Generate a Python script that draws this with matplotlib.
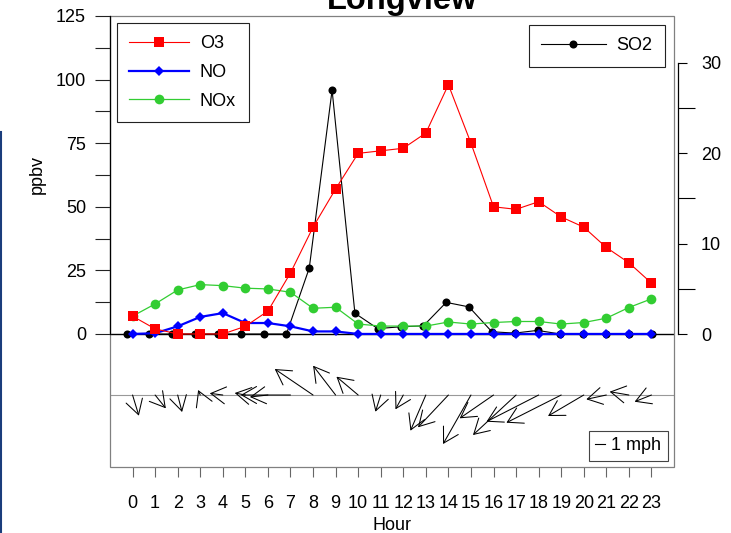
import numpy as np
import matplotlib
matplotlib.use('Agg')
import matplotlib.pyplot as plt
import matplotlib.transforms as mtransforms
from matplotlib.lines import Line2D
from matplotlib.patches import Rectangle

plt.rcParams['font.family'] = ['Liberation Sans', 'DejaVu Sans']

#
# Data
#

hours = list(range(24))
hour_labels = [str(h) for h in hours]

o3 = [7, 2, 0, 0, 0, 3, 9, 24, 42, 57, 71, 72, 73, 79, 98, 75,
      50, 49, 52, 46, 42, 34, 28, 20]
no = [0, 0.3, 3, 6.7, 8.2, 4.3, 4.3, 3, 1, 1, 0, 0, 0, 0, 0, 0,
      0, 0, 0, 0, 0, 0, 0, 0]
nox = [7, 11.8, 17.3, 19.4, 19, 18, 17.7, 16.4, 10.1, 10.5, 3.9, 3.1,
       3.1, 3.1, 4.7, 3.9, 4.5, 4.9, 4.9, 3.9, 4.5, 6.2, 10.4, 13.8]
so2 = [0, 0, 0, 0, 0, 0, 0, 0, 7.3, 27.0, 2.3, 0.6, 0.8, 0.9, 3.5, 3.0,
       0.25, 0.1, 0.4, 0, 0, 0, 0, 0]

# wind components (mph), u east, v north
wind_u = [0.63, 1.07, 0.44, -0.21, -1.30, -1.06, -1.80, -4.97, -3.83, -2.25,
          -2.17, -0.53, -0.78, -1.54, -3.04, -2.79, -3.38, -4.31, -5.22, -5.48,
          -3.57, -2.00, -1.92, -1.68]
wind_v = [-2.07, -1.33, -1.70, 0.50, 0.17, 0.20, -0.20, 0.0, 2.60, 2.93,
          1.83, -1.67, -1.43, -3.57, -3.23, -4.90, -2.33, -4.00, -2.67, -2.77,
          -2.10, -0.43, 0.33, -0.67]

left_ticks = [0, 25, 50, 75, 100, 125]
right_ticks = [0, 10, 20, 30]

wind_base = -24
px_per_mph = 10
fs = 13
DPI = 100

#
# Figure and axes
#

fig = plt.figure(figsize=(7.31, 5.33), dpi=DPI)
pos = [110 / 731, 66 / 533, 564 / 731, 451 / 533]
ax2 = fig.add_axes(pos)
ax = fig.add_axes(pos)
ax.patch.set_visible(False)

#
# Main axis - O3, NO, NOx
#

ax.set_xlim(-1, 24)
ax.set_ylim(-52.3, 125)
ax.axhline(0, color='black', lw=1.0, zorder=1)
ax.axhline(wind_base, color='#999999', lw=0.8, zorder=1)

ax.plot(hours, nox, color='#32CD32', marker='o', ms=7, mew=0, lw=0.9,
        label='NOx', zorder=2)
ax.plot(hours, no, color='blue', marker='D', ms=4.6, mew=0, lw=1.6,
        label='NO', zorder=3)
ax.plot(hours, o3, color='red', marker='s', ms=7.8, mew=0, lw=0.8,
        label='O3', zorder=4)

for s in ['top', 'right', 'bottom']:
    ax.spines[s].set_visible(False)
ax.spines['left'].set_bounds(0, 125)
ax.spines['left'].set_color('black')
ax.spines['left'].set_linewidth(0.9)
ax.spines['left'].set_zorder(6)
ax.add_patch(Rectangle((0, 0), 1, 1, transform=ax.transAxes, fill=False,
                       ec='#808080', lw=0.9, clip_on=False, zorder=5))

ax.set_yticks(left_ticks)
ax.set_yticks(np.arange(12.5, 125, 25), minor=True)
ax.tick_params(axis='y', which='both', length=10.8, width=0.8,
               color='#222222', pad=6.5, labelsize=fs)
ax.set_xticks(hours)
ax.set_xticklabels(hour_labels)
ax.tick_params(axis='x', length=7.5, width=0.8, color='#666666',
               pad=13, labelsize=fs)
ax.set_xlabel('Hour', fontsize=fs, labelpad=3)
ax.set_ylabel('ppbv', fontsize=fs)
ax.yaxis.set_label_coords(-0.1135, 62.5,
                          transform=mtransforms.blended_transform_factory(
                              ax.transAxes, ax.transData))

#
# SO2 axis
#

ax2.set_xlim(-0.73, 23.98)
ax2.set_ylim(-14.72, 35.2)
ax2.plot(hours, so2, color='black', marker='o', ms=5.8, mew=0, lw=0.8,
         label='SO2')
ax2.xaxis.set_visible(False)
for s in ['top', 'left', 'bottom']:
    ax2.spines[s].set_visible(False)
ax2.spines['right'].set_position(('outward', 2.9))
ax2.spines['right'].set_bounds(0, 30)
ax2.spines['right'].set_linewidth(0.9)
ax2.yaxis.tick_right()
ax2.set_yticks(right_ticks)
ax2.set_yticks([5, 15, 25], minor=True)
ax2.tick_params(axis='y', which='major', length=6.5, width=0.8, pad=10,
                labelsize=fs)
ax2.tick_params(axis='y', which='minor', length=12.2, width=0.8)

#
# Legends
#

leg_kw = dict(fontsize=fs, frameon=True, fancybox=False, edgecolor='#222222',
              framealpha=1)
handles, labels = ax.get_legend_handles_labels()
leg1 = ax.legend(handles[::-1], labels[::-1], loc='upper left',
                 borderpad=0.7, labelspacing=0.65, handlelength=3.3,
                 handletextpad=0.6, borderaxespad=0.37, **leg_kw)
leg1.get_frame().set_linewidth(0.8)
leg1.set_zorder(7)

leg2 = ax2.legend(loc='upper right', borderpad=0.68, handlelength=3.6,
                  handletextpad=0.6, borderaxespad=0.5, **leg_kw)
leg2.get_frame().set_linewidth(0.8)

ax.add_artist(leg1)
key_len = px_per_mph * 72 / DPI / fs
leg3 = ax.legend([Line2D([], [], color='black', lw=0.8)], ['1 mph'],
                 loc='lower right', borderpad=0.35, handlelength=key_len,
                 handletextpad=0.32, borderaxespad=0.36, **leg_kw)
leg3.get_frame().set_linewidth(0.8)
leg3.get_frame().set_edgecolor('#444444')
leg3.set_zorder(7)

#
# Wind arrows
#

head = 17 * 72 / DPI
hl = head * np.cos(np.radians(30))
hw = head * np.sin(np.radians(30))
for h, u, v in zip(hours, wind_u, wind_v):
    x0, y0 = ax.transData.transform((h, wind_base))
    ax.annotate('', xy=(x0 + u * px_per_mph, y0 + v * px_per_mph),
                xytext=(x0, y0), xycoords='figure pixels',
                textcoords='figure pixels', annotation_clip=False,
                arrowprops=dict(arrowstyle='->,head_length=%.2f,head_width=%.2f' % (hl, hw),
                                color='black', lw=0.75, shrinkA=0, shrinkB=0,
                                mutation_scale=1))

#
# Title and page edge
#

fig.text(402 / 731, 1 - 9 / 533, 'Longview', ha='center', va='baseline',
         fontsize=23.5, fontweight='bold')
fig.add_artist(Line2D([0.001, 0.001], [0, 1 - 132 / 533],
                      transform=fig.transFigure, color='#1a3d7c', lw=1.5))

fig.savefig('out.png', dpi=DPI)
